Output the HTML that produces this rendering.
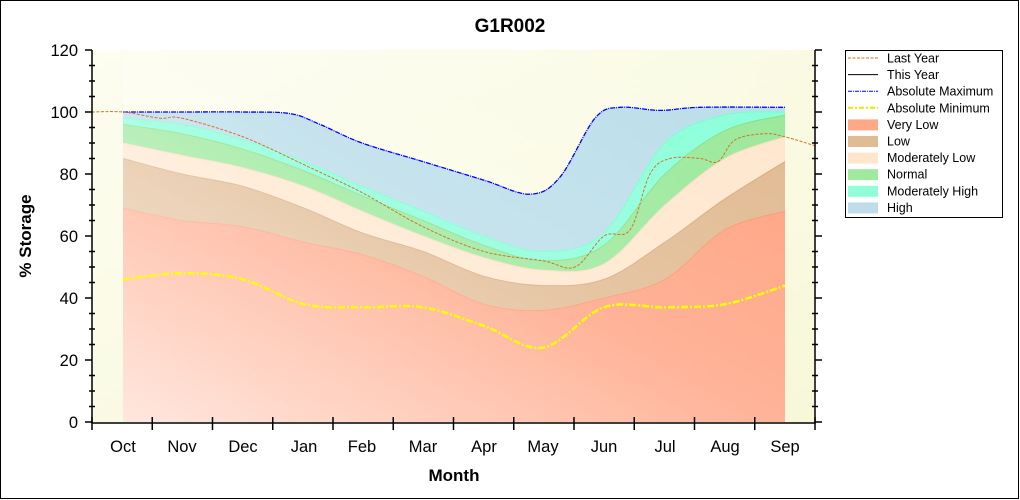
<!DOCTYPE html>
<html><head><meta charset="utf-8"><style>
html,body{margin:0;padding:0;background:#fff;}
svg{display:block;font-family:"Liberation Sans",Arial,sans-serif;}
</style></head><body>
<svg id="s" width="1020" height="500" viewBox="0 0 1020 500" xmlns="http://www.w3.org/2000/svg">
<defs>
<linearGradient id="bg" x1="0" y1="0" x2="1" y2="1">
<stop offset="0" stop-color="#fdfdf0"/><stop offset="1" stop-color="#f7f8d8"/></linearGradient>
<linearGradient id="wash" x1="0" y1="1" x2="1" y2="0">
<stop offset="0" stop-color="#fff" stop-opacity="0.75"/><stop offset="0.5" stop-color="#fff" stop-opacity="0.2"/><stop offset="1" stop-color="#fff" stop-opacity="0"/></linearGradient>
</defs>
<rect x="0.5" y="0.5" width="1018" height="498" fill="#fff" stroke="#000"/>
<text x="510" y="32" text-anchor="middle" font-size="19" font-weight="bold">G1R002</text>
<rect x="92" y="50" width="723" height="373" fill="url(#bg)"/>
<g id="bands"></g>
<rect x="123" y="50" width="662" height="373" fill="url(#wash)"/>
<g id="lines"></g>
<g id="axes" stroke="#000" stroke-width="1.5" fill="none"></g>
<g id="lbl" font-size="16.5"></g>
<text x="454" y="481" text-anchor="middle" font-size="17" font-weight="bold">Month</text>
<text transform="translate(31,236) rotate(-90)" text-anchor="middle" font-size="17" font-weight="bold">% Storage</text>
<rect x="845.5" y="50.5" width="157" height="167" fill="#fff" stroke="#000"/>
<g id="leg" font-size="12.5"></g>
</svg>
<script>
const X=[123,182,243,304,362,423,484,543,604,665,725,785];
const Y=v=>422-3.1*v;
function path(pts){let d="M"+pts[0][0]+","+pts[0][1];
for(let i=0;i<pts.length-1;i++){const p0=pts[i-1]||pts[i],p1=pts[i],p2=pts[i+1],p3=pts[i+2]||p2;
const c1=[p1[0]+(p2[0]-p0[0])/6,p1[1]+(p2[1]-p0[1])/6],c2=[p2[0]-(p3[0]-p1[0])/6,p2[1]-(p3[1]-p1[1])/6];
d+=`C${c1[0].toFixed(1)},${c1[1].toFixed(1)} ${c2[0].toFixed(1)},${c2[1].toFixed(1)} ${p2[0]},${p2[1].toFixed(1)}`;}return d;}
const mk=v=>v.map((a,i)=>[X[i],Y(a)]);
const maxP=[[123,Y(100)],[182,Y(100)],[243,Y(100)],[290,Y(99.5)],[320,Y(96)],[362,Y(90)],[423,Y(84)],[484,Y(78)],[530,Y(73.5)],[560,Y(79)],[595,Y(98)],[620,Y(101.5)],[660,Y(100.5)],[700,Y(101.5)],[785,Y(101.5)]];
const bands=[
 [maxP,"#b9dde9"],
 [mk([98,96,91,84,76,68,60,55,61,90,99,100]),"#88ffd8"],
 [mk([96,93,88,81,73,65,57,52,57,80,94,99]),"#98e898"],
 [mk([90,86,82,76,68,60,53,49,51,70,85,92]),"#ffe6cc"],
 [mk([85,80,76,69,61,55,47,44,46,58,72,84]),"#e0b88e"],
 [mk([69,65,63,58,54,47,38,36,40,46,62,68]),"#ffa07e"]];
const edge=["#0000ff","#70ffd0","#80e080","#ffd9b8","#d4a878","#ff9070"];
let b="";bands.forEach((bd,i)=>{const p=bd[0];b+=`<path d="${path(p)} L785,422 L123,422 Z" fill="${bd[1]}"/>`;
 if(i>0)b+=`<path d="${path(p)}" fill="none" stroke="${edge[i]}" stroke-width="1"/>`;});
document.getElementById("bands").innerHTML=b;
const minP=mk([46,48,46,38,37,37,31,24,37,37,38,44]);
const last=[[92,Y(100)],[123,Y(100)],[160,Y(98)],[182,Y(98)],[243,Y(92)],[304,Y(83)],[362,Y(74)],[423,Y(63)],[484,Y(55)],[543,Y(52)],[575,Y(50)],[604,Y(60)],[630,Y(62)],[650,Y(80)],[670,Y(85)],[700,Y(85)],[718,Y(84)],[735,Y(91)],[765,Y(93)],[785,Y(92)],[816,Y(89)]];
document.getElementById("lines").innerHTML=
`<path d="${path(maxP)}" fill="none" stroke="#0000ff" stroke-width="1.3" stroke-dasharray="5,1,1,1"/>
<path d="${path(minP)}" fill="none" stroke="#ffff00" stroke-width="2.5" stroke-dasharray="7,2,2,2"/>
<path d="${path(last)}" fill="none" stroke="#d2752a" stroke-width="1" stroke-dasharray="3,1.5"/>`;
let a=`<path d="M92,50V423H815V50"/>`;
for(let v=0;v<=120;v+=5){const y=Y(v);a+= v%20?`<path d="M89,${y}H95M812,${y}H818"/>`:`<path d="M85,${y}H92M815,${y}H822"/>`;}
for(let i=0;i<13;i++){const x=92+i*60.25;a+=`<path d="M${x},417V430"/>`;}
document.getElementById("axes").innerHTML=a;
let l="";for(let v=0;v<=120;v+=20)l+=`<text x="78" y="${Y(v)+6}" text-anchor="end">${v}</text>`;
const M=["Oct","Nov","Dec","Jan","Feb","Mar","Apr","May","Jun","Jul","Aug","Sep"];
M.forEach((m,i)=>l+=`<text x="${X[i]}" y="452" text-anchor="middle">${m}</text>`);
document.getElementById("lbl").innerHTML=l;
const lg=[["Last Year","line","#d2752a","3,1.5"],["This Year","line","#000",""],["Absolute Maximum","line","#0000ff","4,1,1,1"],["Absolute Minimum","line","#e8e800","5,2,2,2"],
["Very Low","box","#ffa888"],["Low","box","#e0bc94"],["Moderately Low","box","#ffe6cc"],["Normal","box","#a0eaa0"],["Moderately High","box","#90ffd8"],["High","box","#c0dcea"]];
let g="";lg.forEach((e,i)=>{const y=58+i*16.6;
 if(e[1]=="line")g+=`<line x1="848" x2="878" y1="${y}" y2="${y}" stroke="${e[2]}" stroke-width="${i==3?2:1}" stroke-dasharray="${e[3]}"/>`;
 else g+=`<rect x="848" y="${y-5}" width="30" height="11" fill="${e[2]}"/>`;
 g+=`<text x="887" y="${y+4.5}">${e[0]}</text>`;});
document.getElementById("leg").innerHTML=g;
</script>
</body></html>
